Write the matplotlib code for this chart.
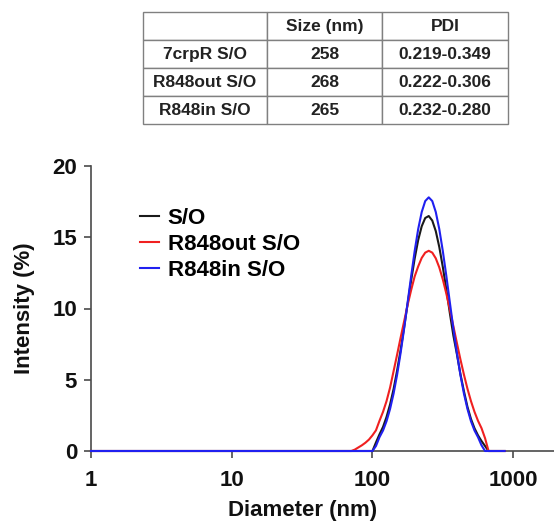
import matplotlib
matplotlib.use("Agg")
import matplotlib.pyplot as plt
import numpy as np

plt.rcParams["font.family"] = ["Liberation Sans", "DejaVu Sans"]
plt.rcParams["font.weight"] = "bold"

# DLS size distributions (diameter in nm, intensity in %)
diameter = [1.0, 70.8, 75.0, 79.4, 84.1, 89.1, 94.4, 100.0, 105.9, 112.2,
            118.9, 125.9, 133.4, 141.3, 149.6, 158.5, 167.9, 177.8, 188.4, 199.5,
            211.3, 223.9, 237.1, 251.2, 266.1, 281.8, 298.5, 316.2, 335.0, 354.8,
            375.8, 398.1, 421.7, 446.7, 473.2, 501.2, 530.9, 562.3, 595.7, 631.0,
            668.3, 707.9, 870.0]

so_ctrl = [0, 0, 0, 0, 0, 0, 0, 0, 0.6, 1.17,
           1.69, 2.39, 3.27, 4.35, 5.63, 7.09, 8.68, 10.34, 11.98, 13.50,
           14.80, 15.77, 16.35, 16.49, 16.17, 15.43, 14.31, 12.91, 11.33, 9.67,
           8.1, 6.8, 5.4, 4.2, 3.1, 2.25, 1.6, 1.1, 0.7, 0.35,
           0, 0, 0]

r848out = [0, 0, 0.1, 0.25, 0.4, 0.58, 0.8, 1.1, 1.45, 2.12,
           2.75, 3.5, 4.45, 5.6, 6.75, 7.95, 9.1, 10.25, 11.3, 12.25,
           12.95, 13.55, 13.92, 14.05, 13.92, 13.52, 12.88, 12.04, 11.04, 9.93,
           8.76, 7.58, 6.43, 5.36, 4.37, 3.50, 2.75, 2.12, 1.60, 0.9,
           0, 0, 0]

r848in = [0, 0, 0, 0, 0, 0, 0, 0, 0.35, 0.97,
          1.44, 2.09, 2.95, 4.03, 5.34, 6.88, 8.59, 10.43, 12.28, 14.03,
          15.57, 16.77, 17.54, 17.80, 17.54, 16.77, 15.57, 14.03, 12.28, 10.43,
          8.59, 6.88, 5.34, 4.03, 2.95, 2.09, 1.44, 0.97, 0.4, 0,
          0, 0, 0]

series_labels = ["S/O", "R848out S/O", "R848in S/O"]
series_colors = ["#1a1a1a", "#f02020", "#2020f0"]

# table above the plot
table_header = ["", "Size (nm)", "PDI"]
table_rows = ["7crpR S/O", "R848out S/O", "R848in S/O"]
table_size = ["258", "268", "265"]
table_pdi = ["0.219-0.349", "0.222-0.306", "0.232-0.280"]

W, H = 554, 527
fig = plt.figure(figsize=(W / 100, H / 100), dpi=100)

ax = fig.add_axes([91 / W, 1 - 451 / H, 1 - 91 / W, 285 / H])
for vals, lab, col in zip([so_ctrl, r848out, r848in], series_labels, series_colors):
    ax.plot(diameter, vals, color=col, lw=1.5, label=lab, clip_on=False, zorder=3)

ax.set_xscale("log")
ax.set_xlim(1, 1950)
ax.set_ylim(0, 20)
ax.set_xticks([1, 10, 100, 1000])
ax.set_xticklabels(["1", "10", "100", "1000"])
ax.set_yticks([0, 5, 10, 15, 20])
ax.xaxis.set_minor_locator(matplotlib.ticker.NullLocator())

for side in ["top", "right"]:
    ax.spines[side].set_visible(False)
for side in ["left", "bottom"]:
    ax.spines[side].set_color("#4a4a4a")
    ax.spines[side].set_linewidth(1.2)
ax.tick_params(axis="both", direction="out", length=5, width=1.2,
               color="#4a4a4a", labelsize=16, labelcolor="#111111")
ax.tick_params(axis="x", pad=9)
ax.tick_params(axis="y", pad=5)

ax.set_ylabel("Intensity (%)", fontsize=16, fontweight="bold", color="#111111")
ax.yaxis.set_label_coords(-0.12, 0.5)
ax.set_xlabel("Diameter (nm)", fontsize=16, fontweight="bold", color="#111111")
ax.xaxis.set_label_coords((303 - 91) / (W - 91), -0.172)

ax.legend(loc="upper left", bbox_to_anchor=(140 / W, 1 - 208 / H),
          bbox_transform=fig.transFigure, frameon=False, fontsize=16,
          handlelength=0.85, handletextpad=0.4, labelspacing=0.22,
          borderpad=0, borderaxespad=0)

# summary table
ax_t = fig.add_axes([142.7 / W, 1 - 124.3 / H, (507.7 - 142.7) / W, 112 / H])
ax_t.axis("off")
cells = [[r, s, p] for r, s, p in zip(table_rows, table_size, table_pdi)]
tbl = ax_t.table(cellText=cells, colLabels=table_header, cellLoc="center",
                 bbox=[0, 0, 1, 1], colWidths=[124, 115.6, 125.4])
tbl.auto_set_font_size(False)
tbl.set_fontsize(12.5)
for (r, c), cell in tbl.get_celld().items():
    cell.set_edgecolor("#808080")
    cell.set_linewidth(1.0)
    cell.get_text().set_fontweight("bold")
    cell.get_text().set_color("#222222")

fig.savefig("out.png", dpi=100)
